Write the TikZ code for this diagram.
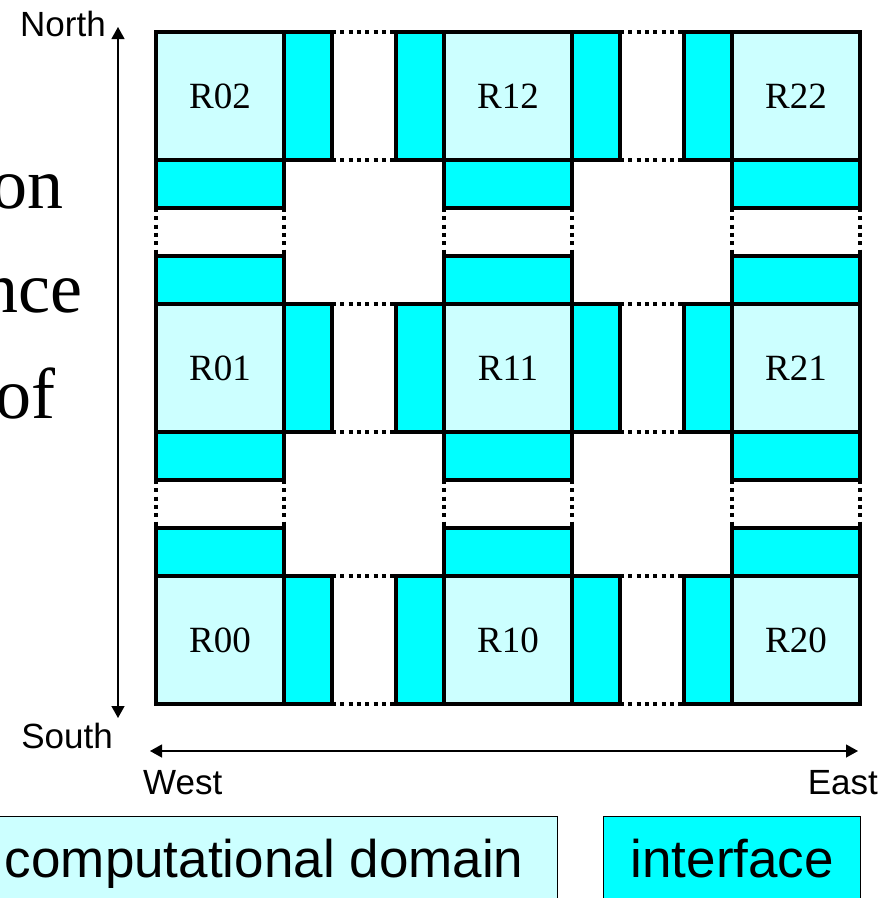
\documentclass[tikz,border=0pt]{standalone}
\usepackage{fontspec}
\setmainfont{Liberation Serif}
\setsansfont{Liberation Sans}
\usepackage{xcolor}
\usetikzlibrary{positioning,arrows.meta}
\definecolor{domcyan}{HTML}{CCFFFF}
\definecolor{ifcyan}{HTML}{00FFFF}
\tikzset{
dombox/.style={
draw,
line width=3.3pt,
fill=domcyan,
minimum width=128pt,
minimum height=128pt,
inner sep=0pt,
outer sep=0pt,
font=\fontsize{37}{40}\selectfont
},
iface/.style={
draw,
line width=3.3pt,
fill=ifcyan,
inner sep=0pt,
outer sep=0pt
},
vface/.style={iface,minimum width=48pt,minimum height=128pt},
hface/.style={iface,minimum width=128pt,minimum height=48pt},
gapline/.style={line width=3.3pt,dash pattern=on 4pt off 4.3pt},
axisline/.style={
{Triangle[length=12pt,width=13pt]}-{Triangle[length=12pt,width=13pt]},
line width=1.3pt
},
compass/.style={inner sep=0pt,font=\sffamily\fontsize{35}{40}\selectfont},
lead/.style={inner sep=0pt,font=\fontsize{72}{80}\selectfont},
keybox/.style={
draw,
line width=1.4pt,
anchor=north west,
minimum height=100pt,
text height=38pt,
text depth=16pt,
inner sep=0pt,
font=\sffamily\fontsize{53}{60}\selectfont
}
}

\begin{document}
\begin{tikzpicture}[x=1pt,y=-1pt]
\clip (0,0) rectangle (887,898);

% domains R<col><row>
\foreach \c in {0,1,2}
\foreach \r in {0,1,2}
\node[dombox](d\c\r) at (220+288*\c,640-272*\r){R\c\r};

% interfaces on each side
\foreach \n in {00,10,01,11,02,12}
\node[vface,right=0pt of d\n](e\n){};
\foreach \n in {10,20,11,21,12,22}
\node[vface,left=0pt of d\n](w\n){};
\foreach \n in {00,10,20,01,11,21}
\node[hface,above=0pt of d\n](n\n){};
\foreach \n in {01,11,21,02,12,22}
\node[hface,below=0pt of d\n](s\n){};

% gaps between neighbouring interfaces
\foreach \x/\y in {00/10,10/20,01/11,11/21,02/12,12/22}{
\draw[gapline](e\x.north east)--(w\y.north west);
\draw[gapline](e\x.south east)--(w\y.south west);
}
\foreach \x/\y in {01/00,11/10,21/20,02/01,12/11,22/21}{
\draw[gapline](s\x.south west)--(n\y.north west);
\draw[gapline](s\x.south east)--(n\y.north east);
}

% compass axes
\coordinate(ntip) at (118,27);
\coordinate(stip) at (118,718);
\coordinate(wtip) at (150,751);
\coordinate(etip) at (858,751);
\draw[axisline](stip)--(ntip);
\draw[axisline](wtip)--(etip);
\node[compass,anchor=base east](north) at (106,36){North};
\node[compass,anchor=base east](south) at (113,748){South};
\node[compass,anchor=base west](west) at (143,794){West};
\node[compass,anchor=base east](east) at (878,794){East};

% text running in from the left
\node[lead,anchor=base east](t1) at (64,208){on};
\node[lead,anchor=base east](t2) at (83,312){nce};
\node[lead,anchor=base east](t3) at (56,418){of};

% legend
\node[keybox,fill=domcyan,minimum width=587pt](kdom) at (-30,816){computational domain};
\node[keybox,fill=ifcyan,minimum width=257pt](kif) at (603,816){interface};

\end{tikzpicture}
\end{document}
